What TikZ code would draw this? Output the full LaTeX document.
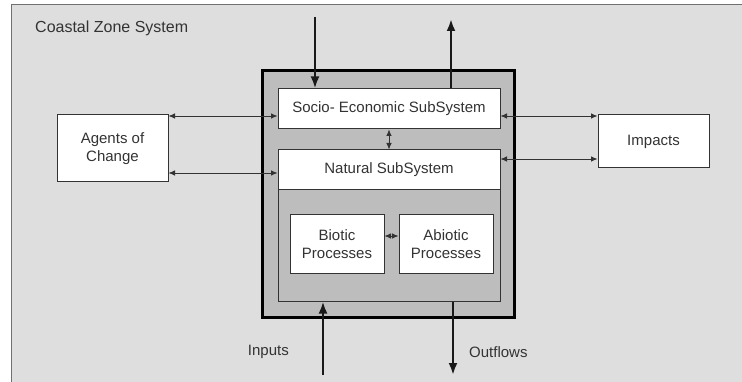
\documentclass[tikz,border=0pt]{standalone}
\usepackage{fontspec}
\setmainfont{Liberation Sans}
\usepackage{tikz}
\usetikzlibrary{arrows.meta, positioning, calc}
\definecolor{zonegray}{HTML}{DEDEDE}
\definecolor{sysgray}{HTML}{BDBDBD}
\definecolor{linegray}{HTML}{333333}

\begin{document}
\begin{tikzpicture}[x=1pt, y=-1pt, >={Latex[length=6.5pt,width=5.5pt]},
				Box/.style={
				draw=linegray,
				line width=1pt,
				fill=white,
				align=center,
				inner sep=0pt,
				text=linegray,
				font=\fontsize{15}{18}\selectfont
				},
				Link/.style={<->, line width=0.8pt, draw=linegray},
				Flow/.style={-{Latex[length=12pt,width=9pt]}, line width=2.7pt, draw=black!90},
				Lbl/.style={text=linegray, font=\fontsize{15}{18}\selectfont, inner sep=0pt}]
				\useasboundingbox (0,0) rectangle (742,382);
				% coastal zone background
				\fill[zonegray] (11,5) rectangle (742,382);
				\draw[linegray!70, line width=1pt] (742,5) -- (11,5) -- (11,382);
				\node[Lbl, font=\fontsize{16}{19}\selectfont, anchor=west] (title) at (35,28) {Coastal Zone System};
				% the system
				\node[draw=black, line width=3pt, fill=sysgray, minimum width=252pt, minimum height=247pt, inner sep=0pt] (sys) at (388.5,194) {};
				\node[Box, fill=sysgray, minimum width=222pt, minimum height=151pt] (natarea) at (389,225.5) {};
				\node[Box, minimum width=222pt, minimum height=40pt, anchor=north] (natural) at (natarea.north) {Natural SubSystem};
				\node[Box, minimum width=222pt, minimum height=40pt] (socio) at (389,109) {Socio- Economic SubSystem};
				\node[Box, minimum width=94pt, minimum height=59pt] (biotic) at (337,244.5) {Biotic\\Processes};
				\node[Box, minimum width=94pt, minimum height=59pt] (abiotic) at (446,244.5) {Abiotic\\Processes};
				% outside boxes
				\node[Box, minimum width=111pt, minimum height=67pt] (agents) at (112.5,148.5) {Agents of\\Change};
				\node[Box, minimum width=111pt, minimum height=53pt] (impacts) at (653.5,141.5) {Impacts};
				% links
				\draw[Link] (agents.east |- 0,116) -- (socio.west |- 0,116);
				\draw[Link] (agents.east |- 0,173) -- (natural.west |- 0,173);
				\draw[Link] (socio.east |- 0,116) -- (impacts.west |- 0,116);
				\draw[Link] (natural.east |- 0,159) -- (impacts.west |- 0,159);
				\draw[Link] (socio.south) -- (natural.north);
				\draw[Link] (biotic.east |- 0,236) -- (abiotic.west |- 0,236);
				% flows in and out
				\coordinate (topin) at (315,17);
				\coordinate (topout) at (451,19);
				\coordinate (botin) at (323,375);
				\coordinate (botout) at (453,375);
				\draw[Flow] (topin) -- (socio.north -| topin);
				\draw[Flow] (socio.north -| topout) -- (topout);
				\draw[Flow] (botin) -- (natarea.south -| botin);
				\draw[Flow] (natarea.south -| botout) -- (botout);
				\node[Lbl, anchor=east, xshift=-34pt] (inputs) at (botin |- 0,352) {Inputs};
				\node[Lbl, anchor=west, xshift=16pt] (outflows) at (botout |- 0,352) {Outflows};
			\end{tikzpicture}
\end{document}
